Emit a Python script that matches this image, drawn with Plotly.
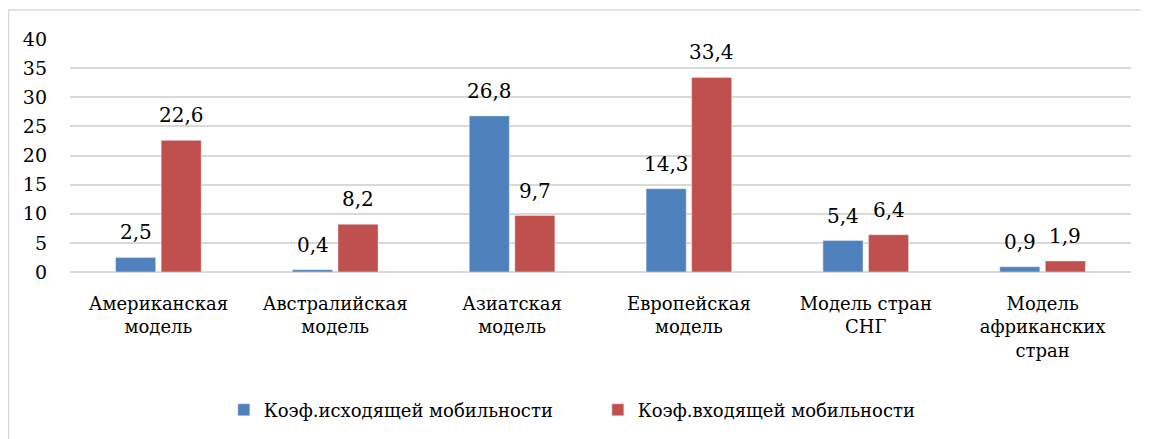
import plotly.graph_objects as go

categories = ["Американская<br>модель", "Австралийская<br>модель", "Азиатская<br>модель",
              "Европейская<br>модель", "Модель стран<br>СНГ", "Модель<br>африканских<br>стран"]
outgoing = [2.5, 0.4, 26.8, 14.3, 5.4, 0.9]
incoming = [22.6, 8.2, 9.7, 33.4, 6.4, 1.9]
series_names = ["Коэф.исходящей мобильности", "Коэф.входящей мобильности"]
y_ticks = [0, 5, 10, 15, 20, 25, 30, 35, 40]

FONT = "DejaVu Serif"
BAR_SHIFT = 22.75  # px offset of each grouped bar from the category centre

W, H = 1141, 431
L, R, T, B = 62, 18, 31, 167
PW, PH = W - L - R, H - T - B

fig = go.Figure()
fig.add_trace(go.Bar(x=categories, y=outgoing, name=series_names[0],
                     marker=dict(color="#4F81BD")))
fig.add_trace(go.Bar(x=categories, y=incoming, name=series_names[1],
                     marker=dict(color="#C0504D")))

annotations = []
for vals, shift in ((outgoing, -BAR_SHIFT), (incoming, BAR_SHIFT)):
    for cat, v in zip(categories, vals):
        annotations.append(dict(x=cat, y=v, xref="x", yref="y",
                                text=f"{v:.1f}".replace(".", ","),
                                showarrow=False, xshift=shift, yshift=11,
                                yanchor="bottom",
                                font=dict(family=FONT, size=20, color="black")))

fig.update_layout(
    width=W, height=H,
    margin=dict(l=L, r=R, t=T, b=B, autoexpand=False),
    paper_bgcolor="white", plot_bgcolor="white",
    barmode="group", bargap=0.485, bargroupgap=0.12,
    font=dict(family=FONT, size=18, color="black"),
    showlegend=True,
    legend=dict(orientation="h", x=0.145, xanchor="left", xref="paper",
                y=0.067, yanchor="middle", yref="container",
                font=dict(family=FONT, size=18, color="black"),
                itemwidth=30, entrywidth=329, entrywidthmode="pixels"),
    xaxis=dict(showgrid=False, showline=False, ticks="",
               tickfont=dict(family=FONT, size=18),
               automargin=False, ticklabelstandoff=19),
    yaxis=dict(range=[0, 40], tickvals=y_ticks, showgrid=True, gridcolor="#D9D9D9",
               gridwidth=1.5, zeroline=True, zerolinecolor="#D9D9D9", zerolinewidth=1.5,
               showline=False, ticks="", tickfont=dict(family=FONT, size=19),
               ticklabelstandoff=22, automargin=False),
    annotations=annotations,
    shapes=[dict(type="rect", xref="paper", yref="paper",
                 x0=-L / PW + 0.0005, x1=1.05, y0=-0.9, y1=(PH + T - 2) / PH,
                 line=dict(color="#D9D9D9", width=1.5), fillcolor="rgba(0,0,0,0)",
                 layer="below")],
)

fig.write_html("out.html")
